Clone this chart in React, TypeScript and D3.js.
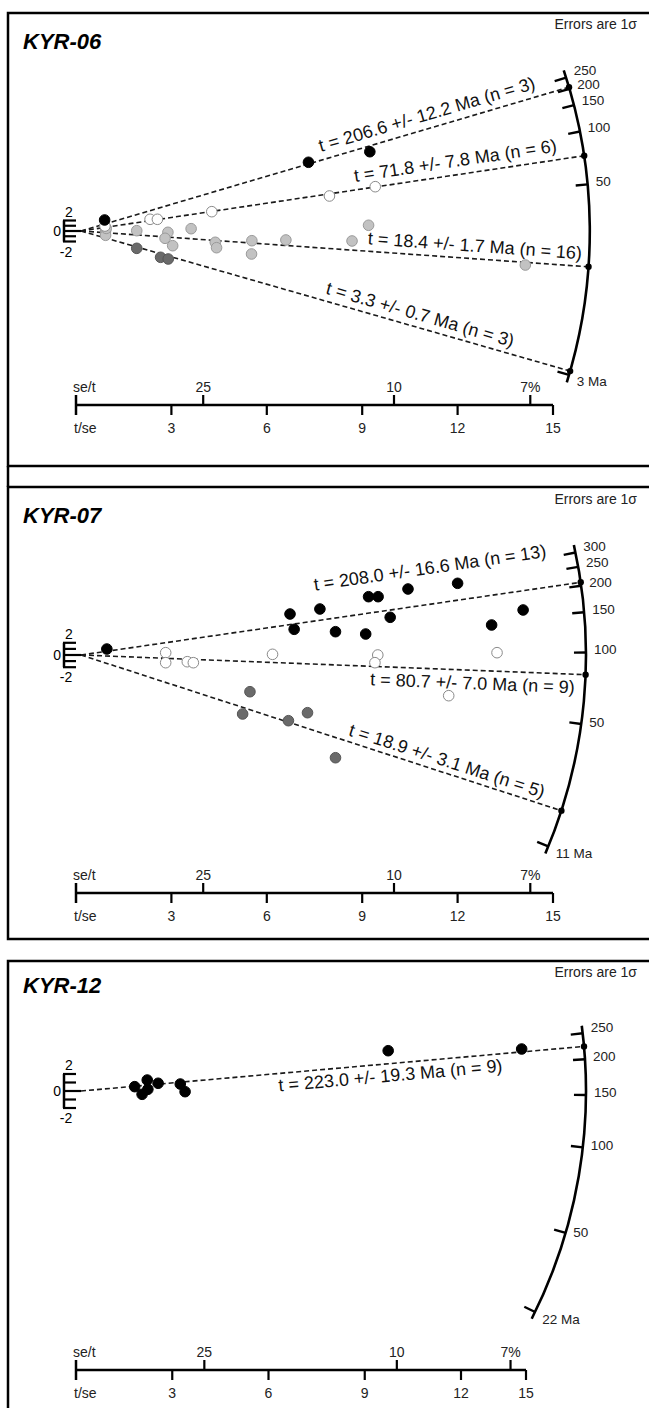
import React from 'react';
import * as d3 from 'd3';

const FONT = "'Liberation Sans', Arial, Helvetica, sans-serif";

// x-axis ticks shared by the three plots
const tseTicks = [0, 3, 6, 9, 12, 15];
const setTicks = [25, 10, 7];
const setTickLabels = ['25', '10', '7%'];

// ---- KYR-06 ----  points are [t/se, standardised estimate]
const kyr06Ages = [206.6, 71.8, 18.4, 3.3];
const kyr06Errs = [12.2, 7.8, 1.7, 0.7];
const kyr06Counts = [3, 6, 16, 3];
const kyr06Black = [[0.90, 2.10], [7.31, 13.09], [9.24, 15.10]];
const kyr06Open = [[0.91, 0.95], [2.33, 2.23], [2.56, 2.23], [4.27, 3.68], [7.97, 6.67], [9.41, 8.44]];
const kyr06Grey = [[0.93, 0.0], [0.93, -0.82], [0.95, 0.5], [1.91, 0.06], [2.89, -0.25], [2.80, -1.39], [3.04, -2.80], [3.62, 0.44], [4.38, -2.15], [4.42, -3.18], [5.53, -1.85], [5.52, -4.38], [6.60, -1.71], [8.68, -1.90], [9.20, 1.09], [14.13, -6.48]];
const kyr06Dark = [[1.91, -3.30], [2.66, -5.01], [2.90, -5.33]];
const kyr06ArcTicks = [250, 200, 150, 100, 50];
const kyr06ArcMin = 3;

// ---- KYR-07 ----
const kyr07Ages = [208.0, 80.7, 18.9];
const kyr07Errs = [16.6, 7.0, 3.1];
const kyr07Counts = [13, 9, 5];
const kyr07Black = [[0.97, 0.98], [6.73, 6.72], [6.86, 4.21], [7.67, 7.54], [8.16, 3.82], [9.20, 9.56], [9.50, 9.56], [9.11, 3.44], [9.88, 6.18], [10.44, 10.82], [12.00, 11.75], [13.07, 4.92], [14.06, 7.38]];
const kyr07Open = [[2.82, 0.38], [2.82, -1.26], [3.50, -1.10], [3.69, -1.26], [6.18, 0.11], [9.49, 0.0], [9.40, -1.26], [11.72, -6.67], [13.24, 0.38]];
const kyr07Dark = [[5.47, -6.02], [5.24, -9.67], [6.68, -10.77], [7.28, -9.46], [8.16, -16.84]];
const kyr07ArcTicks = [300, 250, 200, 150, 100, 50];
const kyr07ArcMin = 11;

// ---- KYR-12 ----
const kyr12Ages = [223.0];
const kyr12Errs = [19.3];
const kyr12Counts = [9];
const kyr12Black = [[1.83, 0.51], [2.06, -0.39], [2.22, 1.29], [2.24, 0.20], [2.56, 0.91], [3.25, 0.82], [3.40, -0.08], [9.73, 4.74], [14.8, 4.94]];
const kyr12ArcTicks = [250, 200, 150, 100, 50];
const kyr12ArcMin = 22;

const STYLES = {
  black: { fill: '#000', stroke: '#000' },
  open: { fill: '#fff', stroke: '#8a8a8a' },
  grey: { fill: '#c2c2c2', stroke: '#9a9a9a' },
  dark: { fill: '#6a6a6a', stroke: '#555' },
};

const panels = [
  {
    name: 'KYR-06', top: 13, height: 453, oy: 218, axisY: 392, titleY: 36, errY: 16,
    half: 10.5, xDomain: [0, 15], xRange: [76, 553], rUnits: 16, c: 0.028,
    ageTop: kyr06ArcTicks[0], ageBottom: kyr06ArcMin, slopeTop: -0.3163, slopeBottom: 0.295,
    ticks: kyr06ArcTicks,
    lines: [
      { age: kyr06Ages[0], err: kyr06Errs[0], n: kyr06Counts[0], pts: kyr06Black, style: 'black', at: 7.77, dy: -8 },
      { age: kyr06Ages[1], err: kyr06Errs[1], n: kyr06Counts[1], pts: kyr06Open, style: 'open', at: 8.81, dy: -8 },
      { age: kyr06Ages[2], err: kyr06Errs[2], n: kyr06Counts[2], pts: kyr06Grey, style: 'grey', at: 9.15, dy: -7 },
      { age: kyr06Ages[3], err: kyr06Errs[3], n: kyr06Counts[3], pts: kyr06Dark, style: 'dark', at: 7.77, dy: -7 },
    ],
    order: [2, 3, 1, 0],
  },
  {
    name: 'KYR-07', top: 487, height: 452, oy: 168, axisY: 406, titleY: 36, errY: 17,
    half: 12.2, xDomain: [0, 15], xRange: [76, 553], rUnits: 15.88, c: 0.015,
    ageTop: kyr07ArcTicks[0], ageBottom: kyr07ArcMin, slopeTop: -0.2073, slopeBottom: 0.4097,
    ticks: kyr07ArcTicks,
    lines: [
      { age: kyr07Ages[0], err: kyr07Errs[0], n: kyr07Counts[0], pts: kyr07Black, style: 'black', at: 7.64, dy: -30 },
      { age: kyr07Ages[1], err: kyr07Errs[1], n: kyr07Counts[1], pts: kyr07Open, style: 'open', at: 9.27, dy: 19 },
      { age: kyr07Ages[2], err: kyr07Errs[2], n: kyr07Counts[2], pts: kyr07Dark, style: 'dark', at: 8.49, dy: -6 },
    ],
    order: [2, 1, 0],
  },
  {
    name: 'KYR-12', top: 961, height: 470, oy: 130, axisY: 409, titleY: 32, errY: 16,
    half: 17, xDomain: [0, 12, 15], xRange: [76, 461, 526], rUnits: 15.74, c: 0.012,
    ageTop: kyr12ArcTicks[0], ageBottom: kyr12ArcMin, slopeTop: -0.115, slopeBottom: 0.4866,
    ticks: kyr12ArcTicks,
    lines: [
      { age: kyr12Ages[0], err: kyr12Errs[0], n: kyr12Counts[0], pts: kyr12Black, style: 'black', at: 6.28, dy: 18 },
    ],
    order: [0],
  },
];

function Panel({ p }: { p: any }) {
  const x = d3.scaleLinear().domain(p.xDomain).range(p.xRange);
  const ox = x(0) + 5;
  const oy = p.oy;
  const y = d3.scaleLinear().domain([-2, 2]).range([oy + p.half, oy - p.half]);
  const R = p.rUnits * (x(1) - x(0));
  const z = (t: number) => Math.atan(Math.sqrt(p.c * t));
  const slope = d3.scaleLinear().domain([z(p.ageTop), z(p.ageBottom)]).range([p.slopeTop, p.slopeBottom]);
  const ang = (t: number) => Math.atan(slope(z(t)));
  const polar = (t: number, r: number) => [ox + r * Math.cos(ang(t)), oy + r * Math.sin(ang(t))];

  const arc = d3.path();
  arc.arc(ox, oy, R, ang(p.ageTop) - 0.015, ang(p.ageBottom) + 0.015, false);

  const fmt = (l: any) => `t = ${l.age.toFixed(1)} +/- ${l.err.toFixed(1)} Ma (n = ${l.n})`;
  const allTicks = [...p.ticks, p.ageBottom];

  return (
    <g transform={`translate(0,${p.top})`}>
      <rect x={8} y={0} width={700} height={p.height} fill="none" stroke="#000" strokeWidth={2.5} />
      <text x={23} y={p.titleY} fontFamily={FONT} fontSize={22} fontWeight="bold" fontStyle="italic">{p.name}</text>
      <text x={637} y={p.errY} fontFamily={FONT} fontSize={14} textAnchor="end" fill="#222">Errors are 1σ</text>

      {/* standardised estimate bracket */}
      <line x1={ox - 17} x2={ox - 17} y1={y(2)} y2={y(-2)} stroke="#000" strokeWidth={2.5} />
      {[-2, -1, 0, 1, 2].map(v => (
        <line key={v} x1={ox - 18} x2={v === 0 ? ox : ox - 5} y1={y(v)} y2={y(v)} stroke="#000" strokeWidth={2.2} />
      ))}
      <text x={ox - 12} y={y(2) - 4} fontFamily={FONT} fontSize={14} textAnchor="middle">2</text>
      <text x={ox - 20} y={oy + 5} fontFamily={FONT} fontSize={14} textAnchor="end">0</text>
      <text x={ox - 15} y={y(-2) + 15} fontFamily={FONT} fontSize={14} textAnchor="middle">-2</text>

      {/* age scale arc */}
      <path d={arc.toString()} fill="none" stroke="#000" strokeWidth={2.6} />
      {allTicks.map((t, i) => {
        const [x1, y1] = polar(t, R);
        const [x2, y2] = polar(t, R - 12);
        const [lx, ly] = polar(t, R + 8);
        const isEnd = t === p.ageBottom;
        const shift = isEnd ? 9 : i === 0 ? 0 : 2;
        return (
          <g key={t}>
            <line x1={x1} y1={y1} x2={x2} y2={y2} stroke="#000" strokeWidth={2.4} />
            <text x={lx} y={ly + shift} fontFamily={FONT} fontSize={13.5} fill="#222">
              {isEnd ? `${t} Ma` : t}
            </text>
          </g>
        );
      })}

      {/* age lines */}
      {p.lines.map((l: any) => {
        const [ex, ey] = polar(l.age, R);
        return (
          <g key={l.age}>
            <line x1={ox} y1={oy} x2={ex} y2={ey} stroke="#1a1a1a" strokeWidth={1.6} strokeDasharray="5,3" />
            <circle cx={ex} cy={ey} r={3.2} fill="#000" />
          </g>
        );
      })}

      {/* points */}
      {p.order.map((i: number) => {
        const l = p.lines[i];
        const st = (STYLES as any)[l.style];
        return (
          <g key={'p' + i}>
            {l.pts.map((d: number[], k: number) => (
              <circle key={k} cx={x(d[0])} cy={y(d[1])} r={5.3} fill={st.fill} stroke={st.stroke} strokeWidth={1} />
            ))}
          </g>
        );
      })}

      {/* line labels */}
      {p.lines.map((l: any) => {
        const s = slope(z(l.age));
        const lx = x(l.at);
        const ly = oy + s * (lx - ox);
        return (
          <text key={'t' + l.age} transform={`translate(${lx},${ly}) rotate(${(Math.atan(s) * 180) / Math.PI})`}
            y={l.dy} fontFamily={FONT} fontSize={18} fill="#111">{fmt(l)}</text>
        );
      })}

      {/* precision axis */}
      <line x1={x(0)} x2={x(15)} y1={p.axisY} y2={p.axisY} stroke="#000" strokeWidth={2.5} />
      <line x1={x(0)} x2={x(0)} y1={p.axisY - 10} y2={p.axisY + 10} stroke="#000" strokeWidth={2.5} />
      {tseTicks.filter(v => v > 0).map(v => (
        <g key={v}>
          <line x1={x(v)} x2={x(v)} y1={p.axisY} y2={p.axisY + 10} stroke="#000" strokeWidth={2.2} />
          <text x={x(v)} y={p.axisY + 28} fontFamily={FONT} fontSize={14} textAnchor="middle" fill="#222">{v}</text>
        </g>
      ))}
      {setTicks.map((v, i) => (
        <g key={'s' + v}>
          <line x1={x(100 / v)} x2={x(100 / v)} y1={p.axisY} y2={p.axisY - 10} stroke="#000" strokeWidth={2.2} />
          <text x={x(100 / v)} y={p.axisY - 13} fontFamily={FONT} fontSize={14} textAnchor="middle" fill="#222">{setTickLabels[i]}</text>
        </g>
      ))}
      <text x={x(0) - 3} y={p.axisY - 13} fontFamily={FONT} fontSize={14} fill="#222">se/t</text>
      <text x={x(0) - 2} y={p.axisY + 28} fontFamily={FONT} fontSize={14} fill="#222">t/se</text>
    </g>
  );
}

export default function App() {
  return (
    <svg width={649} height={1408} style={{ position: 'absolute', left: 0, top: 0, background: '#fff' }}>
      <rect x={0} y={0} width={649} height={1408} fill="#fff" />
      <line x1={8} x2={8} y1={466} y2={487} stroke="#000" strokeWidth={2.5} />
      {panels.map(p => <Panel key={p.name} p={p} />)}
    </svg>
  );
}
